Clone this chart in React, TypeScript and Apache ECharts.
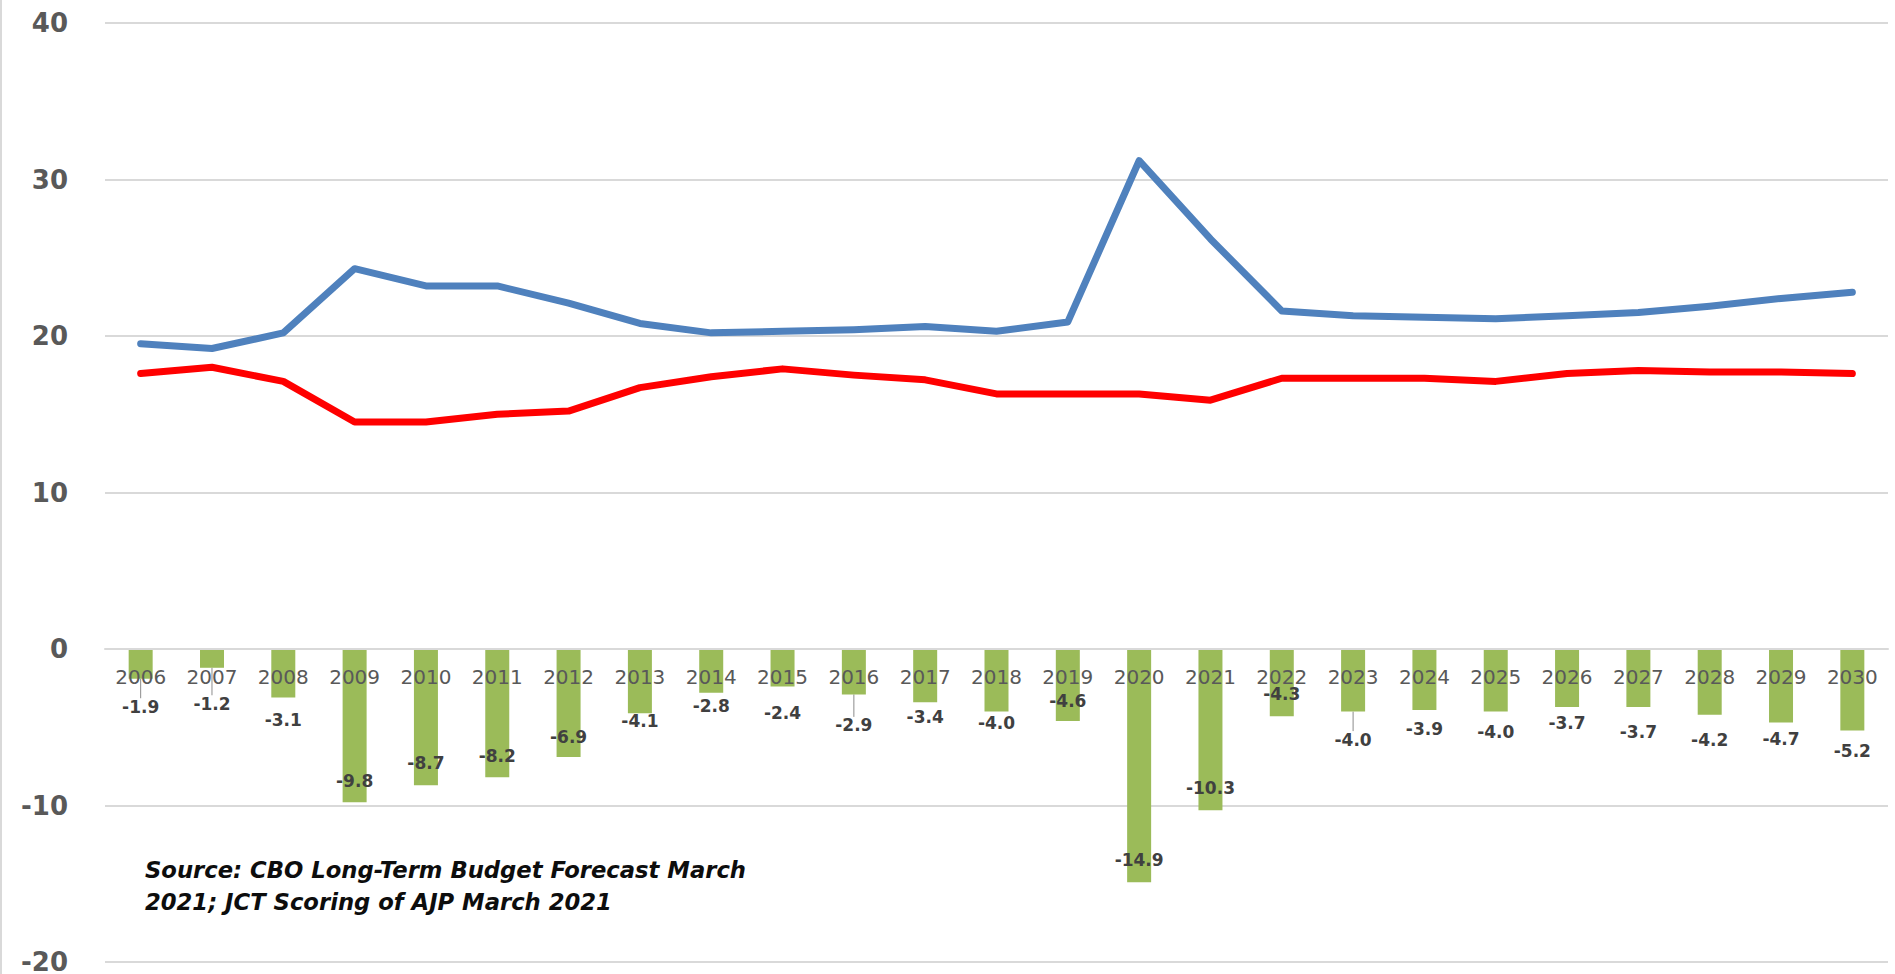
import React, { useEffect, useRef } from "react";
import * as echarts from "echarts";

// Fiscal years shown along the category axis
const YEARS = [
  "2006", "2007", "2008", "2009", "2010", "2011", "2012", "2013", "2014",
  "2015", "2016", "2017", "2018", "2019", "2020", "2021", "2022", "2023",
  "2024", "2025", "2026", "2027", "2028", "2029", "2030",
];

// Federal outlays, % of GDP
const OUTLAYS = [
  19.5, 19.2, 20.2, 24.3, 23.2, 23.2, 22.1, 20.8, 20.2, 20.3, 20.4, 20.6, 20.3,
  20.9, 31.2, 26.2, 21.6, 21.3, 21.2, 21.1, 21.3, 21.5, 21.9, 22.4, 22.8,
];

// Federal revenues, % of GDP
const REVENUES = [
  17.6, 18.0, 17.1, 14.5, 14.5, 15.0, 15.2, 16.7, 17.4, 17.9, 17.5, 17.2, 16.3,
  16.3, 16.3, 15.9, 17.3, 17.3, 17.3, 17.1, 17.6, 17.8, 17.7, 17.7, 17.6,
];

// Deficit, % of GDP
const DEFICITS = [
  -1.9, -1.2, -3.1, -9.8, -8.7, -8.2, -6.9, -4.1, -2.8, -2.4, -2.9, -3.4, -4.0,
  -4.6, -14.9, -10.3, -4.3, -4.0, -3.9, -4.0, -3.7, -3.7, -4.2, -4.7, -5.2,
];

// Y axis range
const Y_MIN = -20;
const Y_MAX = 40;
const Y_STEP = 10;

// Vertical distance (px) from each bar's end to the centre of its value label
const LABEL_SHIFT = [
  28, 36, 22, -21, -22, -21, -20, 8, 13, 26, 31, 15, 11, -20, -22, -22, -22,
  28, 19, 20, 16, 25, 25, 16, 21,
];
// Labels joined to their bar by a short guide line
const GUIDED = new Set(["2006", "2007", "2016", "2023"]);

const SOURCE_LINES = [
  "Source: CBO Long-Term Budget Forecast March",
  "2021; JCT Scoring of AJP March 2021",
];

const FONT = "'DejaVu Sans', 'Open Sans', sans-serif";

const WIDTH = 1895;
const HEIGHT = 974;
const GRID = { left: 105, right: 7, top: 23, bottom: 12 };

export default function App() {
  const ref = useRef<HTMLDivElement>(null);

  useEffect(() => {
    if (!ref.current) return;
    const chart = echarts.init(ref.current, null, { renderer: "svg" });

    const LABEL_HALF = 8.5;

    // Lift the category axis from the grid's bottom edge up to the zero line
    const plotH = HEIGHT - GRID.top - GRID.bottom;
    const zeroY = GRID.top + ((Y_MAX - 0) / (Y_MAX - Y_MIN)) * plotH;
    const axisOffset = -(HEIGHT - GRID.bottom - zeroY);

    chart.setOption({
      animation: false,
      backgroundColor: "#ffffff",
      grid: { ...GRID, containLabel: false, outerBoundsMode: "none" },
      xAxis: {
        type: "category",
        data: YEARS,
        z: 10,
        offset: axisOffset,
        axisLine: { onZero: false, lineStyle: { color: "#d9d9d9", width: 2 } },
        axisTick: { show: false },
        axisLabel: {
          margin: 18,
          fontFamily: FONT,
          fontSize: 20,
          color: "#595959",
        },
      },
      yAxis: {
        type: "value",
        min: Y_MIN,
        max: Y_MAX,
        interval: Y_STEP,
        axisLine: { show: false },
        axisTick: { show: false },
        axisLabel: {
          margin: 37,
          fontFamily: FONT,
          fontSize: 26,
          fontWeight: "bold",
          color: "#595959",
        },
        splitLine: { lineStyle: { color: "#d9d9d9", width: 2 } },
      },
      series: [
        {
          name: "Deficit",
          type: "bar",
          barWidth: 24,
          itemStyle: { color: "#9bbb59" },
          data: DEFICITS.map((v, i) => ({
            value: v,
            labelLine: { show: GUIDED.has(YEARS[i]) },
          })),
          label: {
            show: true,
            position: "bottom",
            distance: 0,
            formatter: (p: any) => Number(p.value).toFixed(1),
            fontFamily: FONT,
            fontSize: 17,
            fontWeight: "bold",
            color: "#404040",
          },
          labelLine: {
            show: false,
            lineStyle: { color: "#8c8c8c", width: 1 },
          },
          labelLayout: (p: any) => ({
            dy: LABEL_SHIFT[p.dataIndex] - LABEL_HALF,
          }),
          z: 2,
        },
        {
          name: "Outlays",
          type: "line",
          data: OUTLAYS,
          showSymbol: false,
          symbol: "none",
          lineStyle: { color: "#4f81bd", width: 7, cap: "round", join: "round" },
          z: 3,
        },
        {
          name: "Revenues",
          type: "line",
          data: REVENUES,
          showSymbol: false,
          symbol: "none",
          lineStyle: { color: "#ff0000", width: 7, cap: "round", join: "round" },
          z: 3,
        },
      ],
      graphic: [
        {
          type: "rect",
          left: 0,
          top: 0,
          shape: { width: 2, height: HEIGHT },
          style: { fill: "#d9d9d9" },
          silent: true,
        },
        ...SOURCE_LINES.map((t, i) => ({
          type: "text",
          x: 145,
          y: 870 + i * 32,
          style: {
            text: t,
            fontFamily: FONT,
            fontSize: 22.7,
            fontWeight: "bold",
            fontStyle: "italic",
            fill: "#0d0d0d",
            verticalAlign: "middle",
          },
          silent: true,
        })),
      ],
    });

    const onResize = () => chart.resize();
    window.addEventListener("resize", onResize);
    return () => {
      window.removeEventListener("resize", onResize);
      chart.dispose();
    };
  }, []);

  return (
    <div
      ref={ref}
      style={{ position: "fixed", left: 0, top: 0, width: WIDTH, height: HEIGHT }}
    />
  );
}
